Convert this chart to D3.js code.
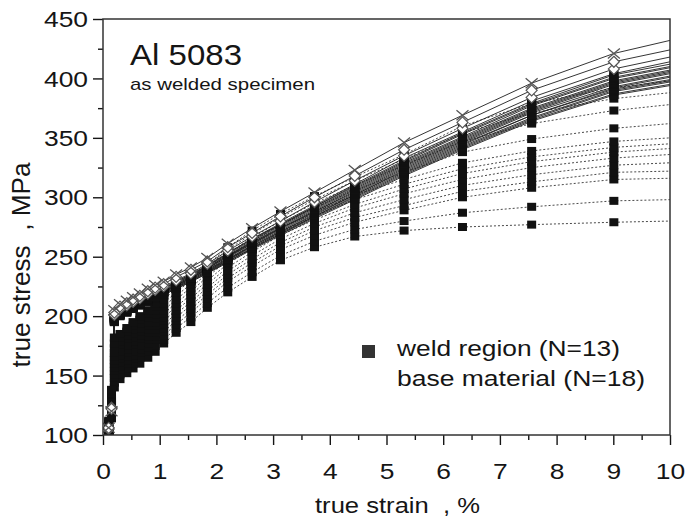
<!DOCTYPE html>
<html>
<head>
<meta charset="utf-8">
<script src="https://cdn.jsdelivr.net/npm/d3@7"></script>
<style>
  html, body { margin: 0; padding: 0; background: #fff; }
  svg { display: block; font-family: "Liberation Sans", Arial, sans-serif; }
</style>
</head>
<body>
<div class="chart"></div>
<script>
// 측정 변형률(%) - 마지막 10 % 는 선 끝점만 (기호 없음)
const strains = [0.1, 0.15, 0.2, 0.3, 0.42, 0.53, 0.65, 0.79, 0.92, 1.07, 1.29, 1.55, 1.84, 2.2, 2.63, 3.13, 3.73, 4.44, 5.31, 6.34, 7.56, 9.01, 10];

// weld region (N=13): 변형률 한 줄마다 13개 시편의 응력(MPa)
const weldStress = [
  [100, 101, 102, 103, 104, 105, 106, 107, 108, 109, 110, 111, 112],
  [114, 116, 118, 120, 122, 124, 126, 128, 130, 132, 134, 136, 138],
  [140, 144, 148, 151, 154, 157, 160, 163, 166, 169, 173, 177, 182],
  [147, 151, 155, 158, 161, 164, 167, 170, 173, 176, 179, 182, 185],
  [152, 156, 160, 163, 166, 169, 172, 175, 178, 181, 184, 187, 190],
  [156, 160, 164, 167, 170, 173, 176, 179, 182, 185, 189, 192, 195],
  [160, 165, 169, 172, 175, 178, 181, 184, 187, 190, 194, 197, 200],
  [165, 170, 174, 177, 180, 183, 186, 189, 192, 195, 199, 202, 205],
  [170, 175, 180, 183, 186, 189, 192, 195, 198, 201, 205, 208, 211],
  [177, 180, 184, 187, 190, 193, 196, 199, 202, 205, 208, 211, 214],
  [186, 190, 193, 196, 199, 202, 205, 208, 211, 214, 217, 220, 223],
  [195, 199, 203, 206, 209, 212, 215, 218, 221, 224, 227, 230, 233],
  [207, 211, 215, 218, 221, 224, 227, 230, 233, 236, 239, 241, 243],
  [220, 224, 229, 232, 235, 238, 241, 244, 247, 250, 253, 256, 258],
  [233, 237, 242, 245, 248, 251, 254, 257, 260, 263, 266, 269, 272],
  [247, 251, 256, 259, 262, 265, 268, 271, 274, 277, 280, 283, 286],
  [258, 263, 268, 272, 275, 278, 281, 284, 287, 291, 295, 298, 301],
  [267, 273, 279, 283, 287, 291, 294, 298, 302, 306, 310, 314, 317],
  [272, 280, 289, 293, 298, 303, 307, 311, 315, 321, 327, 332, 336],
  [275, 287, 300, 305, 310, 315, 320, 324, 329, 338, 347, 354, 360],
  [277, 292, 308, 313, 319, 325, 330, 334, 339, 349, 362, 371, 379],
  [279, 297, 315, 321, 327, 333, 338, 342, 347, 358, 373, 383, 392],
  [280, 298, 316, 322, 329, 336, 341, 345, 350, 362, 378, 388, 398]
];

// base material (N=18): 변형률 한 줄마다 18개 시편의 응력(MPa)
const baseStress = [
  [106, 106, 105, 105, 105, 104, 104, 104, 104, 103, 103, 103, 103, 102, 102, 102, 102, 101],
  [120, 122, 123, 124, 125, 125, 126, 126, 127, 127, 128, 128, 129, 129, 130, 130, 131, 131],
  [205, 203, 201, 200, 200, 199, 199, 199, 198, 198, 198, 197, 197, 196, 196, 196, 195, 195],
  [210, 208, 206, 205, 205, 204, 204, 204, 203, 203, 203, 202, 202, 201, 201, 201, 200, 200],
  [213, 211, 209, 208, 208, 207, 207, 207, 206, 206, 206, 205, 205, 204, 204, 204, 203, 203],
  [216, 214, 212, 211, 211, 210, 210, 210, 209, 209, 209, 208, 208, 207, 207, 207, 206, 206],
  [219, 217, 215, 214, 214, 213, 213, 213, 212, 212, 212, 211, 211, 210, 210, 210, 209, 209],
  [223, 221, 219, 218, 217, 217, 216, 216, 215, 215, 215, 214, 214, 214, 213, 213, 212, 212],
  [226, 224, 222, 221, 220, 220, 219, 219, 218, 218, 218, 217, 217, 217, 216, 216, 215, 215],
  [229, 227, 225, 224, 223, 223, 222, 222, 221, 221, 221, 220, 220, 220, 219, 219, 218, 218],
  [235, 233, 230, 229, 229, 228, 228, 227, 227, 226, 226, 226, 225, 225, 224, 224, 223, 223],
  [241, 239, 236, 235, 235, 234, 234, 233, 233, 232, 232, 232, 231, 231, 230, 230, 229, 229],
  [249, 246, 244, 243, 242, 242, 241, 241, 240, 240, 239, 239, 238, 238, 237, 237, 236, 236],
  [261, 258, 255, 253, 253, 252, 251, 251, 250, 250, 249, 248, 248, 247, 247, 246, 246, 245],
  [274, 270, 267, 265, 265, 264, 263, 262, 262, 261, 261, 260, 259, 259, 258, 257, 257, 256],
  [288, 284, 280, 278, 277, 277, 276, 275, 274, 274, 273, 272, 271, 271, 270, 269, 269, 268],
  [304, 300, 296, 293, 292, 292, 291, 290, 289, 288, 288, 287, 286, 285, 284, 284, 283, 282],
  [323, 318, 314, 311, 310, 309, 308, 307, 306, 305, 304, 303, 302, 302, 301, 300, 299, 298],
  [346, 340, 335, 333, 331, 330, 329, 328, 327, 326, 325, 324, 323, 322, 321, 320, 319, 318],
  [369, 363, 358, 355, 354, 353, 351, 350, 349, 348, 347, 346, 345, 344, 343, 342, 341, 340],
  [396, 390, 384, 381, 379, 378, 377, 375, 374, 373, 372, 371, 369, 369, 367, 366, 365, 364],
  [421, 414, 408, 404, 403, 401, 400, 398, 397, 396, 395, 393, 392, 391, 390, 389, 387, 386],
  [432, 424, 418, 414, 412, 410, 409, 407, 406, 405, 404, 402, 401, 399, 398, 397, 395, 394]
];

// base material 시편별 기호
const baseSymbols = ['cross', 'diamond', 'diamond', 'square', 'square', 'square', 'square', 'square', 'square',
  'square', 'square', 'square', 'square', 'square', 'square', 'square', 'square', 'square'];

// 축 눈금
const xTicks = [0, 1, 2, 3, 4, 5, 6, 7, 8, 9, 10];
const yTicks = [100, 150, 200, 250, 300, 350, 400, 450];
const xMinorTicks = [0.5, 1.5, 2.5, 3.5, 4.5, 5.5, 6.5, 7.5, 8.5, 9.5];
const yMinorTicks = [125, 175, 225, 275, 325, 375, 425];

const titleText = 'Al 5083';
const subtitleText = 'as welded specimen';
const xTitle = 'true strain  , %';
const yTitle = 'true stress  , MPa';
const legendLabels = ['weld region (N=13)', 'base material (N=18)'];

/******************** 차트 ********************/
const OuterWidth = 696, OuterHeight = 522;
const Margin = {top: 19, right: 26, bottom: 87, left: 103};
const StretchX = 1.2;   // 원본 글자가 가로로 늘어나 있음
const Ink = '#151515';

const xScale = d3.scaleLinear([0, 10], [Margin.left, OuterWidth - Margin.right]);
const yScale = d3.scaleLinear([100, 450], [OuterHeight - Margin.bottom, Margin.top]);

const svg = d3.select('.chart')
  .append('svg')
  .attr('width', OuterWidth)
  .attr('height', OuterHeight);

svg.append('defs').append('clipPath')
    .attr('id', 'plot-clip')
  .append('rect')
    .attr('x', xScale(0))
    .attr('y', yScale(450))
    .attr('width', xScale(10) - xScale(0))
    .attr('height', yScale(100) - yScale(450));

// 표 -> 곡선 목록
const toCurves = table => d3.range(table[0].length)
  .map(k => strains.map((s, j) => ({s: s, v: table[j][k]})));
const weldCurves = toCurves(weldStress);
const baseCurves = toCurves(baseStress);

const line = d3.line()
  .x(d => xScale(d.s))
  .y(d => yScale(d.v));

const plot = svg.append('g').attr('clip-path', 'url(#plot-clip)');

// weld: 점선
plot.append('g')
  .selectAll('path')
  .data(weldCurves)
  .join('path')
    .attr('d', line)
    .attr('fill', 'none')
    .attr('stroke', '#4a4a4a')
    .attr('stroke-width', 1)
    .attr('stroke-dasharray', '2,2');

// base: 실선
plot.append('g')
  .selectAll('path')
  .data(baseCurves)
  .join('path')
    .attr('d', line)
    .attr('fill', 'none')
    .attr('stroke', '#1e1e1e')
    .attr('stroke-width', 0.9);

// 기호 (마지막 점 제외)
const markerPts = c => c.slice(0, -1);
const sqW = 9, sqH = 8;

plot.append('g')
  .selectAll('g')
  .data(weldCurves)
  .join('g')
  .selectAll('rect')
  .data(markerPts)
  .join('rect')
    .attr('x', d => xScale(d.s) - sqW / 2)
    .attr('y', d => yScale(d.v) - sqH / 2)
    .attr('width', sqW)
    .attr('height', sqH)
    .attr('fill', '#111');

const baseIdx = d3.range(baseCurves.length).reverse();   // 0번(X)이 맨 위에
const symbolLayer = plot.append('g');
baseIdx.forEach(k => {
  const kind = baseSymbols[k];
  const g = symbolLayer.append('g');
  const pts = markerPts(baseCurves[k]);
  if (kind === 'square') {
    g.selectAll('rect').data(pts).join('rect')
      .attr('x', d => xScale(d.s) - sqW / 2)
      .attr('y', d => yScale(d.v) - sqH / 2)
      .attr('width', sqW)
      .attr('height', sqH)
      .attr('fill', '#111');
  } else if (kind === 'diamond') {
    g.selectAll('path').data(pts).join('path')
      .attr('transform', d => `translate(${xScale(d.s)},${yScale(d.v)})`)
      .attr('d', 'M0,-5.5L5.5,0L0,5.5L-5.5,0Z')
      .attr('fill', '#fff')
      .attr('stroke', '#555')
      .attr('stroke-width', 1.2);
  } else {
    g.selectAll('path').data(pts).join('path')
      .attr('transform', d => `translate(${xScale(d.s)},${yScale(d.v)})`)
      .attr('d', 'M-6,-5L6,5M-6,5L6,-5')
      .attr('fill', 'none')
      .attr('stroke', '#555')
      .attr('stroke-width', 1.3);
  }
});

/******************** 축 ********************/
const axisStyle = g => {
  g.select('.domain').remove();
  g.selectAll('line').attr('stroke', Ink).attr('stroke-width', 1.4);
};

// x축 주 눈금
svg.append('g')
  .attr('transform', `translate(0,${yScale(100)})`)
  .call(d3.axisBottom(xScale).tickValues(xTicks).tickSize(10).tickFormat(d3.format('d')))
  .call(axisStyle)
  .selectAll('text')
    .attr('dy', null)
    .attr('y', 44)
    .attr('fill', Ink)
    .attr('font-size', 22)
    .attr('font-family', '"Liberation Sans", Arial, sans-serif')
    .attr('transform', `scale(${StretchX},1)`);

// x축 보조 눈금
svg.append('g')
  .attr('transform', `translate(0,${yScale(100)})`)
  .call(d3.axisBottom(xScale).tickValues(xMinorTicks).tickSize(5).tickFormat(''))
  .call(axisStyle);

// y축 주 눈금
svg.append('g')
  .attr('transform', `translate(${xScale(0)},0)`)
  .call(d3.axisLeft(yScale).tickValues(yTicks).tickSize(10).tickFormat(d3.format('d')))
  .call(axisStyle)
  .selectAll('text')
    .attr('x', -15 / StretchX)
    .attr('dy', '0.35em')
    .attr('fill', Ink)
    .attr('font-size', 22)
    .attr('font-family', '"Liberation Sans", Arial, sans-serif')
    .attr('transform', `scale(${StretchX},1)`);

// y축 보조 눈금
svg.append('g')
  .attr('transform', `translate(${xScale(0)},0)`)
  .call(d3.axisLeft(yScale).tickValues(yMinorTicks).tickSize(5).tickFormat(''))
  .call(axisStyle);

// 테두리
svg.append('rect')
  .attr('x', xScale(0))
  .attr('y', yScale(450))
  .attr('width', xScale(10) - xScale(0))
  .attr('height', yScale(100) - yScale(450))
  .attr('fill', 'none')
  .attr('stroke', '#333')
  .attr('stroke-width', 1.5);

/******************** 글자 ********************/
const addText = (str, {x, y, size, width, anchor = 'start', transform = null}) => {
  const t = svg.append('text')
    .attr('x', x)
    .attr('y', y)
    .attr('font-size', size)
    .attr('fill', Ink)
    .attr('text-anchor', anchor)
    .attr('textLength', width)
    .attr('lengthAdjust', 'spacingAndGlyphs')
    .style('white-space', 'pre')
    .text(str);
  if (transform) t.attr('transform', transform);
  return t;
};

addText(titleText, {x: 130, y: 65, size: 30, width: 112});
addText(subtitleText, {x: 130, y: 90, size: 17, width: 185});

// 축 제목
addText(xTitle, {x: 315, y: 513, size: 22, width: 165});
addText(yTitle, {x: 0, y: 0, size: 22, width: 205, anchor: 'middle',
  transform: `translate(30,265) scale(${StretchX},1) rotate(-90)`});

// 범례
svg.append('rect')
  .attr('x', 362)
  .attr('y', 345)
  .attr('width', 13)
  .attr('height', 13)
  .attr('fill', '#333');
addText(legendLabels[0], {x: 397, y: 356, size: 22, width: 223});
addText(legendLabels[1], {x: 397, y: 386, size: 22, width: 248});
</script>
</body>
</html>
